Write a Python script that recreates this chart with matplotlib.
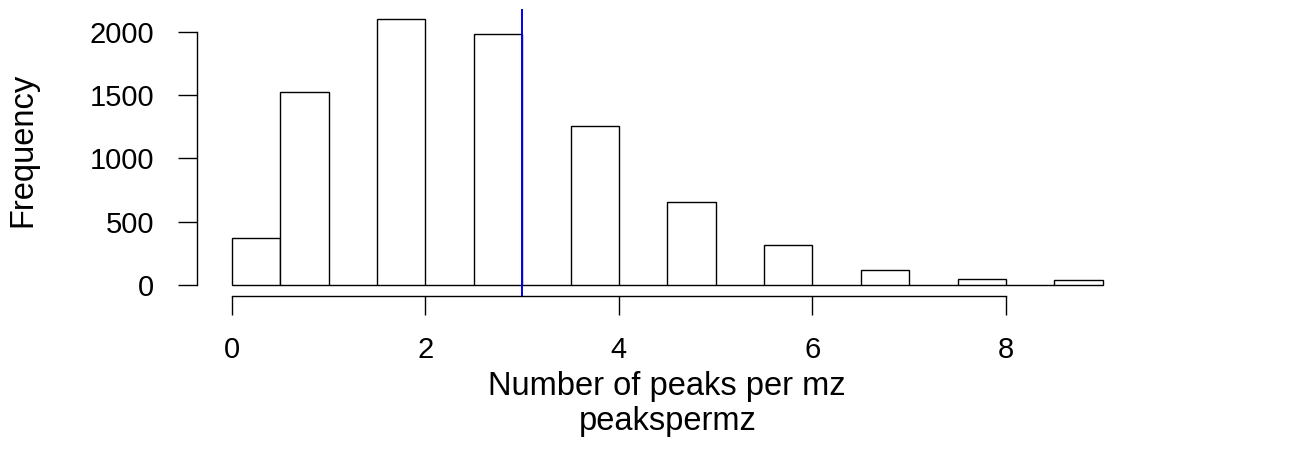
import matplotlib.pyplot as plt
import numpy as np

plt.rcParams['font.family'] = ['Liberation Sans', 'DejaVu Sans']

# histogram bins (width 0.5) and counts
bin_left = np.arange(0, 9, 0.5)
counts = [368, 1522, 0, 2100, 0, 1987, 0, 1254, 0, 654, 0, 314, 0, 118, 0, 45, 0, 37]
x_ticks = [0, 2, 4, 6, 8]
y_ticks = [0, 500, 1000, 1500, 2000]
cutoff = 3

W, H = 1292, 449
fig = plt.figure(figsize=(W / 100, H / 100), dpi=100)
# plot region as in R (usr extended by 4%)
x0, x1, y0, y1 = 197, 1137.6, 8.7, 295.6
ax = fig.add_axes([x0 / W, 1 - y1 / H, (x1 - x0) / W, (y1 - y0) / H])
ax.set_xlim(-0.36, 9.36)
ax.set_ylim(-84, 2184)

ax.bar(bin_left, counts, width=0.5, align='edge', facecolor='white',
       edgecolor='black', linewidth=1.0)
ax.axvline(cutoff, color='#0000ee', linewidth=1.4)

for s in ['top', 'right']:
    ax.spines[s].set_visible(False)
ax.spines['left'].set_bounds(0, 2000)
ax.spines['bottom'].set_bounds(0, 8)
for s in ['left', 'bottom']:
    ax.spines[s].set_linewidth(1.0)

ax.set_xticks(x_ticks)
ax.set_yticks(y_ticks)
ax.tick_params(length=14, width=1.0, labelsize=21)
ax.tick_params(axis='x', pad=15)
ax.tick_params(axis='y', pad=17)
ax.patch.set_alpha(0)

xc = 0.5 * (x0 + x1) / W
fig.text(xc, 1 - 395 / H, 'Number of peaks per mz', ha='center',
         va='baseline', fontsize=23.5)
fig.text(xc, 1 - 430 / H, 'peakspermz', ha='center',
         va='baseline', fontsize=23.5)
fig.text(23 / W, 1 - 150 / H, 'Frequency', rotation=90, ha='center',
         va='center', fontsize=23.5)

fig.savefig('out.png', dpi=100)
